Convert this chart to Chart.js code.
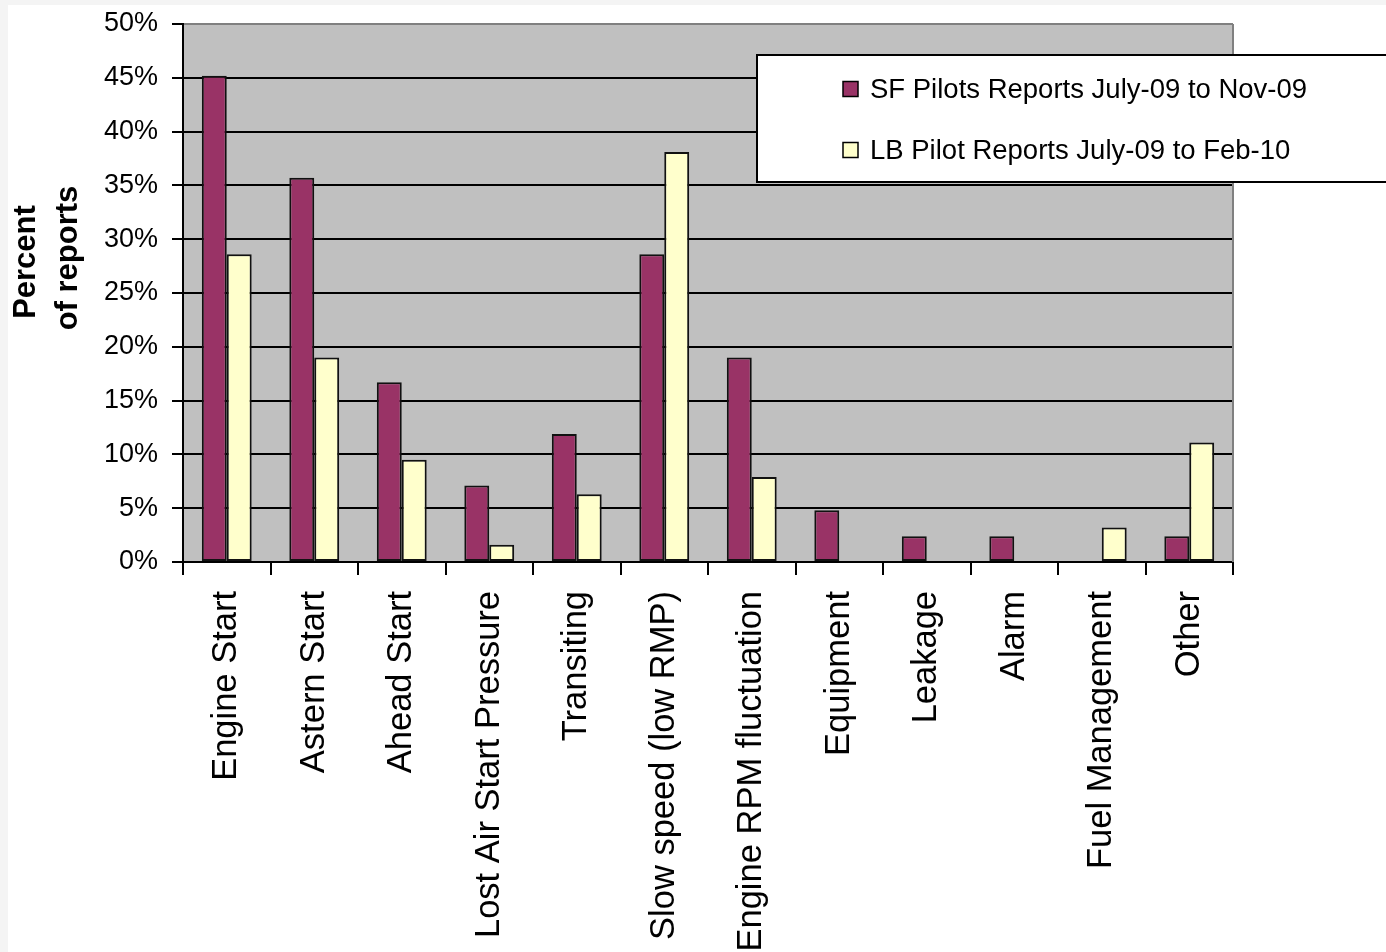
<!DOCTYPE html>
<html>
<head>
<meta charset="utf-8">
<script src="https://cdn.jsdelivr.net/npm/chart.js@4.4.1/dist/chart.umd.min.js"></script>
<style>
  html, body { margin: 0; padding: 0; background: #f4f4f4; }
  #wrap { position: absolute; left: 0; top: 0; width: 1386px; height: 952px; }
</style>
</head>
<body>
<div id="wrap"><canvas id="chart" width="1386" height="952"></canvas></div>
<script>
// Reported problem categories
const categories = [
  'Engine Start', 'Astern Start', 'Ahead Start', 'Lost Air Start Pressure',
  'Transiting', 'Slow speed (low RMP)', 'Engine RPM fluctuation', 'Equipment',
  'Leakage', 'Alarm', 'Fuel Management', 'Other'
];

// Share of reports per category, in percent
const sfLabel = 'SF Pilots Reports July-09 to Nov-09';
const sfValues = [45.2, 35.7, 16.7, 7.1, 11.9, 28.6, 19.0, 4.8, 2.4, 2.4, 0, 2.4];

const lbLabel = 'LB Pilot Reports July-09 to Feb-10';
const lbValues = [28.6, 19.0, 9.5, 1.6, 6.3, 38.1, 7.9, 0, 0, 0, 3.2, 11.1];

// Value axis ticks
const yTicks = [0, 5, 10, 15, 20, 25, 30, 35, 40, 45, 50];
const yTitleLines = ['Percent', 'of reports'];

const FONT = '"Liberation Sans", Arial, sans-serif';

// Page frame, white sheet and grey plot area
const backdrop = {
  id: 'backdrop',
  beforeDraw(chart) {
    const { ctx, chartArea: a } = chart;
    ctx.save();
    ctx.fillStyle = '#f4f4f4';
    ctx.fillRect(0, 0, chart.width, chart.height);
    ctx.fillStyle = '#ffffff';
    ctx.fillRect(8, 5, chart.width - 8, chart.height - 5);
    ctx.fillStyle = '#c0c0c0';
    ctx.fillRect(a.left, a.top, a.right - a.left, a.bottom - a.top);
    ctx.restore();
  },
  beforeDatasetsDraw(chart) {
    const { ctx, chartArea: a } = chart;
    ctx.save();
    ctx.strokeStyle = '#808080';
    ctx.lineWidth = 2;
    ctx.beginPath();
    ctx.moveTo(a.right, a.top);
    ctx.lineTo(a.right, a.bottom);
    ctx.stroke();
    ctx.restore();
  }
};

// Two-line rotated value-axis title
const yTitle = {
  id: 'yTitle',
  afterDraw(chart) {
    const { ctx } = chart;
    const xs = [26, 68];
    const ys = [262, 258];
    ctx.save();
    ctx.fillStyle = '#000';
    ctx.font = 'bold 31px ' + FONT;
    ctx.textAlign = 'center';
    ctx.textBaseline = 'middle';
    yTitleLines.forEach((line, i) => {
      ctx.save();
      ctx.translate(xs[i], ys[i]);
      ctx.rotate(-Math.PI / 2);
      ctx.fillText(line, 0, 0);
      ctx.restore();
    });
    ctx.restore();
  }
};

// Boxed legend overlapping the top right of the plot
const boxLegend = {
  id: 'boxLegend',
  afterDraw(chart) {
    const { ctx } = chart;
    ctx.save();
    ctx.fillStyle = '#ffffff';
    ctx.fillRect(757, 55, 700, 127);
    ctx.strokeStyle = '#000';
    ctx.lineWidth = 2;
    ctx.strokeRect(757, 55, 700, 127);
    const rows = [89, 150];
    ctx.font = '27.5px ' + FONT;
    ctx.textBaseline = 'middle';
    ctx.textAlign = 'left';
    chart.data.datasets.forEach((ds, i) => {
      const cy = rows[i];
      ctx.fillStyle = ds.backgroundColor;
      ctx.fillRect(843, cy - 7.5, 15, 15);
      ctx.lineWidth = 1.5;
      ctx.strokeStyle = '#000';
      ctx.strokeRect(843, cy - 7.5, 15, 15);
      ctx.fillStyle = '#000';
      ctx.fillText(ds.label, 870, cy + 1);
    });
    ctx.restore();
  }
};

const barBorder = (c) => (c.raw === 0 ? 0 : 2);

new Chart(document.getElementById('chart'), {
  type: 'bar',
  data: {
    labels: categories,
    datasets: [
      { label: sfLabel, data: sfValues, backgroundColor: '#993366',
        borderColor: '#111', borderWidth: barBorder, borderSkipped: false },
      { label: lbLabel, data: lbValues, backgroundColor: '#ffffcc',
        borderColor: '#111', borderWidth: barBorder, borderSkipped: false }
    ]
  },
  options: {
    responsive: false,
    animation: false,
    events: [],
    devicePixelRatio: 1,
    layout: { padding: { top: 24, right: 153, left: 0, bottom: 0 } },
    datasets: { bar: { categoryPercentage: 0.57, barPercentage: 1.0 } },
    plugins: { legend: { display: false }, tooltip: { enabled: false } },
    scales: {
      x: {
        type: 'category',
        afterFit(scale) { scale.height = 390; },
        grid: { offset: true, drawOnChartArea: false, drawTicks: true,
                tickLength: 13, color: '#000', lineWidth: 2 },
        border: { display: true, color: '#000', width: 2 },
        ticks: { autoSkip: false, minRotation: 90, maxRotation: 90, padding: 16,
                 color: '#000', font: { family: FONT, size: 34.5 } }
      },
      y: {
        min: 0, max: 50,
        afterFit(scale) {
          scale.width = 183;
          scale.paddingTop = 0;
          scale.paddingBottom = 0;
        },
        afterBuildTicks(scale) { scale.ticks = yTicks.map(v => ({ value: v })); },
        grid: {
          color: (c) => (c.tick && c.tick.value === 50 ? '#808080' : '#000'),
          tickColor: '#000', lineWidth: 2, tickLength: 11, drawTicks: true
        },
        border: { display: true, color: '#000', width: 2 },
        ticks: { padding: 14, color: '#000', font: { family: FONT, size: 27 },
                 callback: (v) => v + '%' }
      }
    }
  },
  plugins: [backdrop, yTitle, boxLegend]
});
</script>
</body>
</html>
